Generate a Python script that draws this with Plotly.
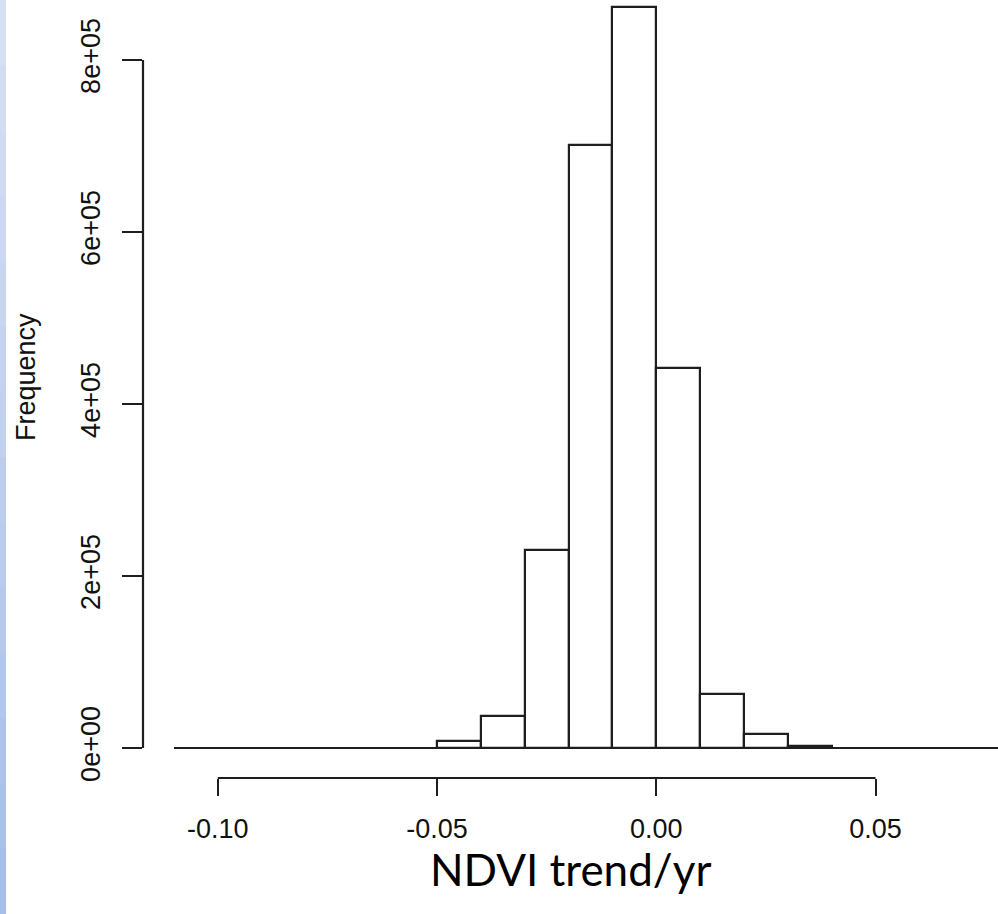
import plotly.graph_objects as go

# Histogram of NDVI trend per year (bin width 0.01)
bin_left = [-0.05, -0.04, -0.03, -0.02, -0.01, 0.00, 0.01, 0.02, 0.03]
counts = [8000, 37600, 230000, 701000, 862000, 441500, 62400, 16600, 2800]
all_edges = [-0.11, 0.10]          # full histogram range (empty bins drawn flat)
bin_width = 0.01

x_ticks = [-0.10, -0.05, 0.00, 0.05]
x_tick_labels = ["-0.10", "-0.05", "0.00", "0.05"]
y_ticks = [0, 200000, 400000, 600000, 800000]
y_tick_labels = ["0e+00", "2e+05", "4e+05", "6e+05", "8e+05"]

x_title = "NDVI trend/yr"
y_title = "Frequency"

INK = "#1e1e1e"
TICK_FONT = dict(family="Liberation Sans, Arial, sans-serif", size=27, color="#111111")

fig = go.Figure()

# baseline of empty bins
fig.add_trace(go.Scatter(
    x=all_edges, y=[0, 0], mode="lines",
    line=dict(color=INK, width=2.2), hoverinfo="skip", showlegend=False,
))

fig.add_trace(go.Bar(
    x=[b + bin_width / 2 for b in bin_left], y=counts, width=bin_width,
    marker=dict(color="white", line=dict(color=INK, width=2.2)),
    showlegend=False,
))

# R-style detached axis lines
fig.add_shape(type="line", xref="x", yref="paper",
              x0=x_ticks[0], x1=x_ticks[-1], y0=0, y1=0,
              line=dict(color=INK, width=2.2))
fig.add_shape(type="line", xref="paper", yref="y",
              x0=0, x1=0, y0=y_ticks[0], y1=y_ticks[-1],
              line=dict(color=INK, width=2.2))

# left decorative gradient strip (slide edge)
strip_cols = ["#d6e0f2", "#d2ddf2", "#cfdbf1", "#cbd8f0", "#c8d6f0", "#c4d3ef", "#c1d1ee",
              "#bdceed", "#bacced", "#b6c9ec", "#b3c6eb", "#afc3ea", "#acc1ea", "#a8bee9"]
n = len(strip_cols)
h = (914 / 778) / n
for i, c in enumerate(strip_cols):
    fig.add_shape(type="rect", xref="paper", yref="paper",
                  x0=-143 / 855, x1=-137 / 855,
                  y0=1 - (i + 1) * h - 0.002,
                  y1=1 - i * h,
                  fillcolor=c, line=dict(width=0), layer="below")

fig.add_annotation(text=y_title, xref="paper", yref="paper",
                   x=(26 - 143) / 855, y=(778 - 377) / 778, textangle=-90,
                   showarrow=False, font=TICK_FONT, xanchor="center", yanchor="middle")
fig.add_annotation(text=x_title, xref="paper", yref="paper",
                   x=(570 - 143) / 855, y=-(869 - 778) / 778,
                   showarrow=False, xanchor="center", yanchor="middle",
                   font=dict(family="Lato, Open Sans, sans-serif", size=44, color="black"))

fig.update_layout(
    width=998, height=914,
    margin=dict(l=143, r=0, t=0, b=136),
    paper_bgcolor="white", plot_bgcolor="white",
    bargap=0,
    xaxis=dict(range=[-0.11706, 0.07792], tickvals=x_ticks, ticktext=x_tick_labels,
               ticks="outside", ticklen=17, tickwidth=2.2, tickcolor=INK,
               showgrid=False, zeroline=False, showline=False,
               tickfont=TICK_FONT, ticklabelstandoff=10),
    yaxis=dict(range=[-34884, 869767], tickvals=y_ticks, ticktext=y_tick_labels,
               ticks="outside", ticklen=20, tickwidth=2.2, tickcolor=INK,
               showgrid=False, zeroline=False, showline=False,
               tickangle=-90, tickfont=TICK_FONT, ticklabelstandoff=11),
)

fig.write_html("out.html", config={"displayModeBar": False},
               post_script="document.body.style.margin='0';document.body.style.overflow='hidden';")
